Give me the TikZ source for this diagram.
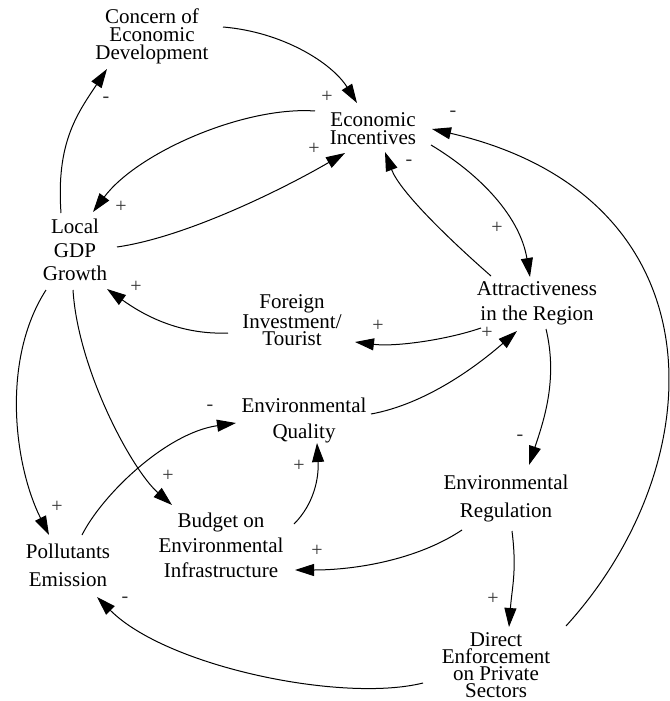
\documentclass[tikz,border=0pt]{standalone}
\usepackage{fontspec}
\setmainfont{Liberation Serif}
\usetikzlibrary{arrows.meta}
\begin{document}
\begin{tikzpicture}[x=1pt,y=-1pt,
  cv/.style={align=center,inner sep=0pt,font=\fontsize{21}{#1}\selectfont},
  sg/.style={inner sep=0pt,text=black!80,font=\fontsize{20}{20}\selectfont},
  lk/.style={line width=1pt,-{Triangle[length=19pt,width=12pt]}}]
\useasboundingbox (0,0) rectangle (669,701);
% variables
\node[cv=18] (C) at (152,36) {Concern of\\Economic\\Development};
\node[cv=18] (EI) at (373,129) {Economic\\Incentives};
\node[cv=23.5] (GDP) at (75,250) {Local\\GDP\\Growth};
\node[cv=17] (FI) at (292,320) {Foreign\\Investment/\\Tourist};
\node[cv=25] (AR) at (537,303) {Attractiveness\\in the Region};
\node[cv=26] (EQ) at (304,420) {Environmental\\Quality};
\node[cv=28] (ER) at (506,498) {Environmental\\Regulation};
\node[cv=25] (BE) at (221,545) {Budget on\\Environmental\\Infrastructure};
\node[cv=28] (PE) at (68,565) {Pollutants\\Emission};
\node[cv=17] (DE) at (496,665) {Direct\\Enforcement\\on Private\\Sectors};
% links
\draw[lk] ([shift={(71,-9)}]C.center) .. controls +(60,5) and +(-25,-40) .. ([shift={(-16,-26)}]EI.center);
\draw[lk] ([shift={(-58,-18)}]EI.center) .. controls +(-70,-5) and +(45,-60) .. ([shift={(18,-38)}]GDP.center);
\draw[lk] ([shift={(42,-3)}]GDP.center) .. controls +(70,-10) and +(-60,35) .. ([shift={(-28,24)}]EI.center);
\draw[lk] ([shift={(-14,-37)}]GDP.center) .. controls +(-5,-70) and +(-30,45) .. ([shift={(-45,33)}]C.center);
\draw[lk] ([shift={(58,16)}]EI.center) .. controls +(50,30) and +(-10,-60) .. ([shift={(-7,-26)}]AR.center);
\draw[lk] ([shift={(-46,-27)}]AR.center) .. controls +(-40,-35) and +(15,40) .. ([shift={(12,23)}]EI.center);
\draw[lk] ([shift={(70,-39)}]DE.center) .. controls +(150,-165) and +(290,67) .. ([shift={(59,0)}]EI.center);
\draw[lk] ([shift={(-64,13)}]FI.center) .. controls +(-50,2) and +(35,25) .. ([shift={(32,39)}]GDP.center);
\draw[lk] ([shift={(-56,25)}]AR.center) .. controls +(-35,12) and +(40,5) .. ([shift={(63,22)}]FI.center);
\draw[lk] ([shift={(67,-6)}]EQ.center) .. controls +(55,-10) and +(-40,35) .. ([shift={(-20,28)}]AR.center);
\draw[lk] ([shift={(9,26)}]AR.center) .. controls +(12,50) and +(15,-45) .. ([shift={(23,-33)}]ER.center);
\draw[lk] ([shift={(-44,32)}]ER.center) .. controls +(-45,30) and +(60,0) .. ([shift={(74,25)}]BE.center);
\draw[lk] ([shift={(6,33)}]ER.center) .. controls +(5,40) and +(3,-40) .. ([shift={(13,-38)}]DE.center);
\draw[lk] ([shift={(-73,18)}]DE.center) .. controls +(-80,20) and +(70,70) .. ([shift={(29,32)}]PE.center);
\draw[lk] ([shift={(-29,40)}]GDP.center) .. controls +(-45,70) and +(-35,-70) .. ([shift={(-19,-30)}]PE.center);
\draw[lk] ([shift={(-2,40)}]GDP.center) .. controls +(5,80) and +(-40,-35) .. ([shift={(-49,-40)}]BE.center);
\draw[lk] ([shift={(14,-30)}]PE.center) .. controls +(20,-40) and +(-70,10) .. ([shift={(-68,3)}]EQ.center);
\draw[lk] ([shift={(73,-21)}]BE.center) .. controls +(20,-20) and +(2,35) .. ([shift={(13,23)}]EQ.center);
% polarities
\node[sg] (s1) at (327,97) {+};
\node[sg] (s2) at (314,149) {+};
\node[sg] (s3) at (453,114) {-};
\node[sg] (s4) at (409,163) {-};
\node[sg] (s5) at (497,228) {+};
\node[sg] (s6) at (121,207) {+};
\node[sg] (s7) at (106,100) {-};
\node[sg] (s8) at (136,287) {+};
\node[sg] (s9) at (378,326) {+};
\node[sg] (s10) at (487,333) {+};
\node[sg] (s11) at (210,408) {-};
\node[sg] (s12) at (299,466) {+};
\node[sg] (s13) at (168,476) {+};
\node[sg] (s14) at (57,507) {+};
\node[sg] (s15) at (520,438) {-};
\node[sg] (s16) at (317,551) {+};
\node[sg] (s17) at (493,599) {+};
\node[sg] (s18) at (125,600) {-};
\end{tikzpicture}
\end{document}
